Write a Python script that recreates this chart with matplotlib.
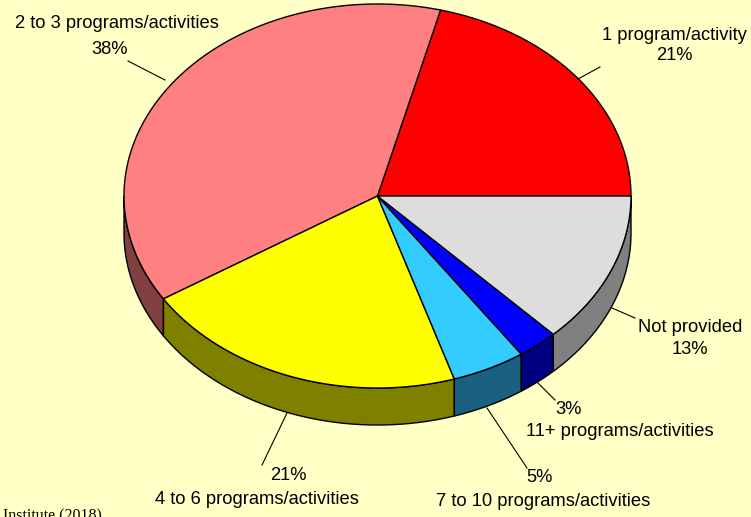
import numpy as np
import matplotlib
matplotlib.use("Agg")
import matplotlib.pyplot as plt
from matplotlib.patches import Polygon

# ---- data ----
categories = ["1 program/activity", "2 to 3 programs/activities", "4 to 6 programs/activities",
              "7 to 10 programs/activities", "11+ programs/activities", "Not provided"]
values = [21.0, 38.0, 20.9, 4.7, 2.6, 12.8]
top_colors = ["#FF0000", "#FF8080", "#FFFF00", "#33CCFF", "#0000FF", "#DDDDDD"]
side_colors = ["#800000", "#804040", "#808000", "#1A6080", "#000080", "#808080"]
source_text = "Institute (2018)"

W, H = 751, 517
fig = plt.figure(figsize=(W / 100, H / 100), dpi=100)
fig.patch.set_facecolor("#FFFFC6")
ax = fig.add_axes([0, 0, 1, 1])
ax.set_xlim(0, W)
ax.set_ylim(H, 0)
ax.axis("off")
ax.set_facecolor("#FFFFC6")

cx, cy, rx, ry, depth = 377.5, 196.0, 253.5, 192.0, 37.0

def pt(t_deg, dy=0.0):
    t = np.radians(t_deg)
    return cx + rx * np.cos(t), cy - ry * np.sin(t) + dy

total = sum(values)
angles = np.concatenate([[0], np.cumsum(values) / total * 360.0])

# sides (front half: 180..360)
for i in range(len(values)):
    a, b = angles[i], angles[i + 1]
    lo, hi = max(a, 180.0), min(b, 360.0)
    if hi <= lo:
        continue
    ts = np.linspace(lo, hi, 100)
    top = [pt(t) for t in ts]
    bot = [pt(t, depth) for t in ts[::-1]]
    ax.add_patch(Polygon(top + bot, closed=True, facecolor=side_colors[i],
                         edgecolor="black", lw=1.0, joinstyle="round"))

# top faces
for i in range(len(values)):
    a, b = angles[i], angles[i + 1]
    ts = np.linspace(a, b, 200)
    poly = [(cx, cy)] + [pt(t) for t in ts]
    ax.add_patch(Polygon(poly, closed=True, facecolor=top_colors[i],
                         edgecolor="black", lw=1.0, joinstyle="round"))

# labels
pct = [f"{round(v):d}%" for v in values]
fs = 13.2
tk = dict(fontsize=fs, family="Liberation Sans", color="black")
ax.text(674, 35, categories[0], ha="center", va="center", **tk)
ax.text(674, 56, pct[0], ha="center", va="center", **tk)
ax.plot([578, 600], [79, 67], color="black", lw=0.8)

ax.text(117, 23, categories[1], ha="center", va="center", **tk)
ax.text(110, 49, pct[1], ha="center", va="center", **tk)
ax.plot([128, 165], [61, 80], color="black", lw=0.8)

ax.text(288, 476, pct[2], ha="center", va="center", **tk)
ax.text(257, 500, categories[2], ha="center", va="center", **tk)
ax.plot([287, 262], [413, 465], color="black", lw=0.8)

ax.text(540, 478, pct[3], ha="center", va="center", **tk)
ax.text(543, 502, categories[3], ha="center", va="center", **tk)
ax.plot([487, 527], [408, 468], color="black", lw=0.8)

ax.text(569, 410, pct[4], ha="center", va="center", **tk)
ax.text(620, 432, categories[4], ha="center", va="center", **tk)
ax.plot([537, 555], [382, 400], color="black", lw=0.8)

ax.text(690, 328, categories[5], ha="center", va="center", **tk)
ax.text(690, 350, pct[5], ha="center", va="center", **tk)
ax.plot([612, 308 + 327], [308, 318], color="black", lw=0.8)

ax.text(3, 508, source_text, ha="left", va="top", fontsize=11.5,
        family="Liberation Serif", color="black")

fig.savefig("out.png", dpi=100, facecolor=fig.get_facecolor())
